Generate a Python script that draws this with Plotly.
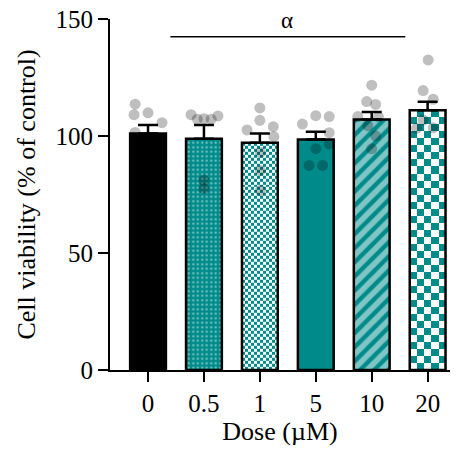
import numpy as np
import plotly.graph_objects as go

# ---- data ----
doses = ["0", "0.5", "1", "5", "10", "20"]
means = [101.1, 98.8, 97.1, 98.5, 107.1, 111.0]
sems = [3.6, 5.9, 4.0, 3.3, 3.2, 3.6]

pts_0 = [113.6, 109.1, 109.9, 105.7, 101.5, 95.0, 90.0, 84.0]
pts_05 = [109.1, 107.2, 107.4, 107.2, 108.6, 81.2, 77.6]
pts_1 = [112.0, 106.7, 104.0, 102.6, 99.7, 93.0, 85.2, 76.7]
pts_5 = [105.1, 108.7, 108.3, 101.4, 94.6, 96.6, 87.4, 87.4]
pts_10 = [121.7, 114.7, 113.5, 108.3, 108.3, 104.4, 100.1, 94.5]
pts_20 = [132.5, 119.4, 115.7, 106.8, 103.3, 103.5]
points = [pts_0, pts_05, pts_1, pts_5, pts_10, pts_20]

# horizontal jitter of the points (layout only)
jitter = [
    [-0.23, -0.25, 0.0, 0.25, -0.23, 0.0, 0.24, -0.12],
    [-0.23, -0.12, 0.0, 0.13, 0.25, 0.0, 0.0],
    [0.0, 0.0, 0.24, -0.23, 0.25, 0.01, 0.01, 0.01],
    [-0.24, 0.0, 0.24, 0.24, 0.0, 0.24, -0.12, 0.12],
    [0.0, -0.09, 0.07, -0.25, 0.12, -0.07, 0.07, 0.0],
    [0.01, -0.08, 0.10, -0.08, -0.20, 0.10],
]

TEAL = "#008b8b"
FONT = "Liberation Serif"
BAR_W = 0.64
xpos = list(range(len(doses)))

fig = go.Figure()


def checker(xc, top, ncols, cell_h):
    xe = np.linspace(xc - BAR_W / 2, xc + BAR_W / 2, ncols + 1)
    ye = list(np.arange(0, top, cell_h))
    ye.append(top)
    ye = np.array(ye)
    z = [[(i + j) % 2 for i in range(ncols)] for j in range(len(ye) - 1)]
    return go.Heatmap(x=xe, y=ye, z=z, zmin=0, zmax=1,
                      colorscale=[[0, "white"], [1, TEAL]],
                      showscale=False, hoverinfo="skip", zsmooth=False)


# checkerboard fills (dose 1 fine, dose 20 coarse)
fig.add_trace(checker(xpos[2], means[2], 12, 1.28))
fig.add_trace(checker(xpos[5], means[5], 5, 3.0))

fig.add_trace(go.Bar(
    x=xpos, y=means, width=BAR_W,
    marker=dict(
        color=["black", TEAL, "rgba(0,0,0,0)", TEAL, TEAL, "rgba(0,0,0,0)"],
        line=dict(color="black", width=2.5),
        pattern=dict(
            shape=["", ".", "", "", "/", ""],
            fgcolor="white",
            size=[8, 4.5, 8, 8, 10, 8],
            solidity=[0.3, 0.18, 0.3, 0.3, 0.55, 0.3],
        ),
    ),
    error_y=dict(type="data", array=sems, arrayminus=[0] * len(sems),
                 symmetric=False, color="black", thickness=2.5, width=10),
    hoverinfo="skip", showlegend=False,
))

px_, py_ = [], []
for i, vals in enumerate(points):
    for v, j in zip(vals, jitter[i]):
        px_.append(xpos[i] + j)
        py_.append(v)
fig.add_trace(go.Scatter(
    x=px_, y=py_, mode="markers",
    marker=dict(size=11, color="rgba(0,0,0,0.25)", line=dict(width=0)),
    hoverinfo="skip", showlegend=False, cliponaxis=False,
))

# significance bar
fig.add_shape(type="line", xref="x", yref="y", x0=0.4, x1=4.6, y0=142.4, y1=142.4,
              line=dict(color="black", width=1.5), layer="above")
fig.add_annotation(xref="x", yref="paper", x=2.48, y=0.995, text="α", showarrow=False,
                   font=dict(family=FONT, size=23, color="black"),
                   yanchor="middle", xanchor="center")

axis_common = dict(showline=True, linecolor="black", linewidth=2,
                   ticks="outside", ticklen=10, tickwidth=2, tickcolor="black",
                   showgrid=False, zeroline=False, automargin=False,
                   tickfont=dict(family=FONT, size=25, color="black"))

fig.update_layout(
    width=460, height=450, autosize=False,
    margin=dict(l=110, r=10, t=19, b=80),
    plot_bgcolor="white", paper_bgcolor="white",
    barmode="overlay", showlegend=False,
    xaxis=dict(range=[-0.68, 5.4], tickvals=xpos, ticktext=doses,
               title=dict(text="Dose (µM)", font=dict(family=FONT, size=26, color="black"),
                          standoff=6),
               **axis_common),
    yaxis=dict(range=[0, 150], tickvals=[0, 50, 100, 150],
               title=dict(text="Cell viability (% of control)",
                          font=dict(family=FONT, size=26, color="black"), standoff=12),
               **axis_common),
)

fig.write_html("out.html", config={"displayModeBar": False},
               post_script="document.body.style.margin='0';")
